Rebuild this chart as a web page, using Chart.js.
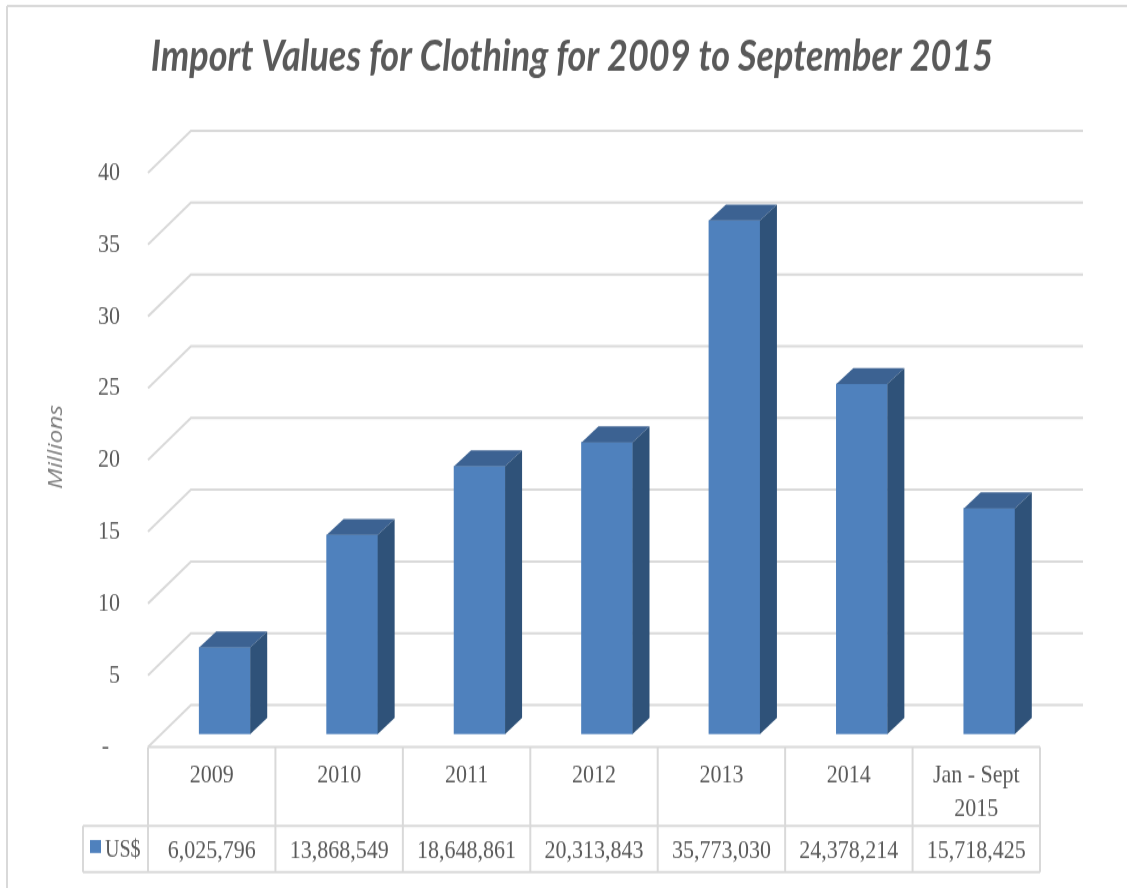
<!DOCTYPE html>
<html>
<head>
<meta charset="utf-8">
<title>Import Values for Clothing</title>
<script src="https://cdn.jsdelivr.net/npm/chart.js@4/dist/chart.umd.min.js"></script>
<style>
    html, body { margin: 0; padding: 0; background: #fff; overflow: hidden; }
    /* the source picture is stretched vertically and soft, so the canvas is too */
    #importChart { display: block; width: 1127px !important; height: 888px !important; filter: blur(0.5px); }
</style>
</head>
<body>
<canvas id="importChart" width="1127" height="740"></canvas>
<script>
const titleText = 'Import Values for Clothing for 2009 to September 2015';
const axisTitle = 'Millions';
const seriesName = 'US$';
const categories = ['2009', '2010', '2011', '2012', '2013', '2014', ['Jan - Sept', '2015']];
const importValues = [6025796, 13868549, 18648861, 20313843, 35773030, 24378214, 15718425];
const yTickLabels = ['-  ', '5', '10', '15', '20', '25', '30', '35', '40'];

const SY = 888 / 740;
const textColor = '#595959';
const lineColor = '#d9d9d9';
const tableFont = '22px "Liberation Serif"';

function line(ctx, x1, y1, x2, y2) {
    ctx.beginPath();
    ctx.moveTo(x1, y1);
    ctx.lineTo(x2, y2);
    ctx.stroke();
}

// back wall, left wall and floor of the 3D box
const wallsPlugin = {
    id: 'walls',
    // the title sits right of the canvas centre
    afterLayout(chart) {
        chart.titleBlock.left = 0;
        chart.titleBlock.right = 1144;
    },
    beforeDatasetsDraw(chart) {
        const ctx = chart.ctx;
        const area = chart.chartArea;
        const yScale = chart.scales.y;
        ctx.save();
        ctx.strokeStyle = lineColor;
        ctx.lineWidth = 2;
        yScale.ticks.forEach(function(tick) {
            const y = yScale.getPixelForValue(tick.value);
            const backY = y - 29 / SY;
            const frontY = y + 13 / SY;
            ctx.beginPath();
            ctx.moveTo(area.left - 13, frontY);
            ctx.lineTo(area.left + 30, backY);
            ctx.lineTo(area.right + 30, backY);
            ctx.stroke();
        });
        ctx.restore();
    },
    // depth faces of the bars
    afterDatasetsDraw(chart) {
        const ctx = chart.ctx;
        const dx = 17;
        const dy = 16 / SY;
        chart.getDatasetMeta(0).data.forEach(function(bar) {
            const left = bar.x - bar.width / 2;
            const right = bar.x + bar.width / 2;
            ctx.fillStyle = '#3c6292';
            ctx.beginPath();
            ctx.moveTo(left, bar.y);
            ctx.lineTo(left + dx, bar.y - dy);
            ctx.lineTo(right + dx, bar.y - dy);
            ctx.lineTo(right, bar.y);
            ctx.closePath();
            ctx.fill();
            ctx.fillStyle = '#2f5279';
            ctx.beginPath();
            ctx.moveTo(right, bar.y);
            ctx.lineTo(right + dx, bar.y - dy);
            ctx.lineTo(right + dx, bar.base - dy);
            ctx.lineTo(right, bar.base);
            ctx.closePath();
            ctx.fill();
        });
    },
    // outer frame and the data table
    afterDraw(chart) {
        const ctx = chart.ctx;
        const area = chart.chartArea;
        const xScale = chart.scales.x;
        const left = area.left - 13;
        const right = area.right - 13;
        const cell = (right - left) / categories.length;
        const top = 747 / SY;
        const split = 826 / SY;
        const bottom = 872 / SY;
        ctx.save();
        ctx.strokeStyle = lineColor;
        ctx.lineWidth = 2;
        line(ctx, 7, 6 / SY, chart.width, 6 / SY);
        line(ctx, 7, 6 / SY, 7, chart.height);
        line(ctx, left, top, right, top);
        line(ctx, 83, split, right, split);
        line(ctx, 83, bottom, right, bottom);
        line(ctx, 83, split, 83, bottom);
        for (let i = 0; i <= categories.length; i++) {
            line(ctx, left + cell * i, top, left + cell * i, bottom);
        }
        ctx.font = tableFont;
        ctx.fillStyle = textColor;
        ctx.textAlign = 'center';
        ctx.textBaseline = 'middle';
        importValues.forEach(function(v, i) {
            ctx.fillText(v.toLocaleString('en-US'), xScale.getPixelForValue(i) - 13, 851 / SY);
        });
        ctx.textAlign = 'left';
        ctx.font = '20px "Liberation Serif"';
        ctx.fillText(seriesName, 105, 851 / SY);
        ctx.fillStyle = '#4f81bd';
        ctx.fillRect(90, 840 / SY, 11, 13 / SY);
        ctx.restore();
    }
};

const ctx = document.getElementById('importChart').getContext('2d');

const importChart = new Chart(ctx, {
    type: 'bar',
    data: {
        labels: categories,
        datasets: [{
            label: seriesName,
            data: importValues,
            backgroundColor: '#4f81bd',
            barThickness: 51
        }]
    },
    plugins: [wallsPlugin],
    options: {
        responsive: false,
        animation: false,
        devicePixelRatio: 1,
        layout: {
            autoPadding: false,
            padding: { left: 18, right: 74, top: 0, bottom: 0 }
        },
        scales: {
            x: {
                grid: { display: false, drawTicks: false },
                border: { display: false },
                afterFit: function(scale) {
                    scale.height = 740 - 734 / SY;
                },
                ticks: {
                    autoSkip: false,
                    maxRotation: 0,
                    padding: 20,
                    labelOffset: -13,
                    color: textColor,
                    font: { family: 'Liberation Serif', size: 22, lineHeight: 1.3 }
                }
            },
            y: {
                min: 0,
                max: 40000000,
                grid: { display: false, drawTicks: false },
                border: { display: false },
                afterFit: function(scale) {
                    scale.width = 143;
                },
                title: {
                    display: true,
                    text: axisTitle,
                    color: '#7f7f7f',
                    padding: { top: 26, bottom: 0 },
                    font: { family: 'Open Sans', size: 20.5, style: 'italic' }
                },
                ticks: {
                    stepSize: 5000000,
                    padding: 41,
                    labelOffset: 11,
                    color: textColor,
                    font: { family: 'Liberation Serif', size: 22 },
                    callback: function(value, index) {
                        return yTickLabels[index];
                    }
                }
            }
        },
        plugins: {
            legend: { display: false },
            tooltip: { enabled: false },
            title: {
                display: true,
                text: titleText,
                color: textColor,
                padding: { top: 26, bottom: 64 },
                font: { family: 'Lato', size: 36, weight: 'bold', style: 'italic', lineHeight: 1.2 }
            }
        }
    }
});
</script>
</body>
</html>
